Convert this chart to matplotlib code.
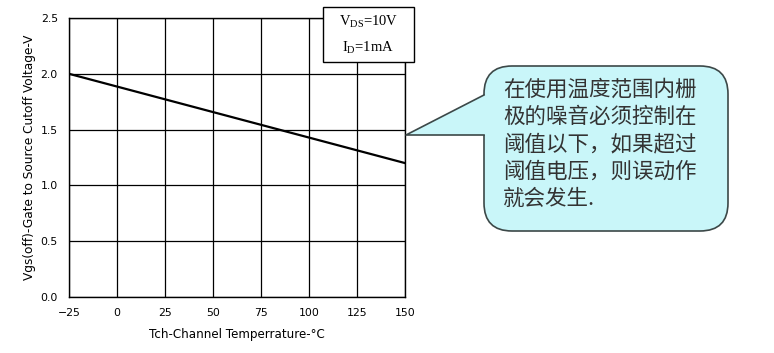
import matplotlib.pyplot as plt
from matplotlib.patches import FancyBboxPatch, Polygon, Rectangle

# datos
temp = [-25, 150]           # Tch (°C)
vgs_off = [2.0, 1.2]        # Vgs(off) (V)
xticks = [-25, 0, 25, 50, 75, 100, 125, 150]
yticks = [0.0, 0.5, 1.0, 1.5, 2.0, 2.5]
nota = "在使用温度范围内栅\n极的噪音必须控制在\n阈值以下，如果超过\n阈值电压，则误动作\n就会发生."

W, H = 774, 353
fig = plt.figure(figsize=(W / 100, H / 100), dpi=100)

# ejes del gráfico (posición en píxeles de la imagen)
l, r, t, b = 69, 405, 18, 297
ax = fig.add_axes([l / W, 1 - b / H, (r - l) / W, (b - t) / H])
ax.plot(temp, vgs_off, color='black', lw=1.6)
ax.set_xlim(-25, 150)
ax.set_ylim(0, 2.5)
ax.set_xticks(xticks)
ax.set_yticks(yticks)
ax.set_yticklabels([f"{v:.1f}" for v in yticks])
ax.grid(True, color='black', lw=0.9)
ax.tick_params(length=0, labelsize=7.8, pad=8)
for s in ax.spines.values():
    s.set_linewidth(1.0)
ax.set_xlabel("Tch\u2010Channel Temperrature\u2010°C", fontsize=8.6, labelpad=7)
ax.set_ylabel("Vgs(off)\u2010Gate to Source Cutoff Voltage\u2010V", fontsize=8.7, labelpad=3)

# capa superior en píxeles para cuadro y globo
ov = fig.add_axes([0, 0, 1, 1], zorder=10)
ov.set_xlim(0, W)
ov.set_ylim(H, 0)
ov.axis('off')
ov.patch.set_alpha(0)

# cuadro de condiciones
ov.add_patch(Rectangle((323, 7), 91, 55, facecolor='white', edgecolor='black', lw=1.0))
ov.text(368.5, 22, r"V$\mathregular{_{DS}}$=10V", ha='center', va='center',
        fontsize=10.5, family='Liberation Serif')
ov.text(368.5, 48, r"I$\mathregular{_{D}}$=1mA", ha='center', va='center',
        fontsize=10.5, family='Liberation Serif')

# globo de texto
fill = '#c9f6f9'
edge = '#3c4848'
ov.add_patch(FancyBboxPatch((484, 66), 244, 165, boxstyle="round,pad=0,rounding_size=28",
                            facecolor=fill, edgecolor=edge, lw=1.2))
ov.add_patch(Polygon([(406, 135), (484, 95), (488, 95), (488, 135), (484, 135)], closed=True,
                     facecolor=fill, edgecolor='none'))
ov.plot([484, 406, 484], [95, 135, 135], color=edge, lw=1.2)
ov.text(503, 79, nota, ha='left', va='top', fontsize=15.5,
        family=['Noto Sans CJK SC', 'DejaVu Sans'], color='#333333', linespacing=1.3)

fig.savefig('out.png', dpi=100)
